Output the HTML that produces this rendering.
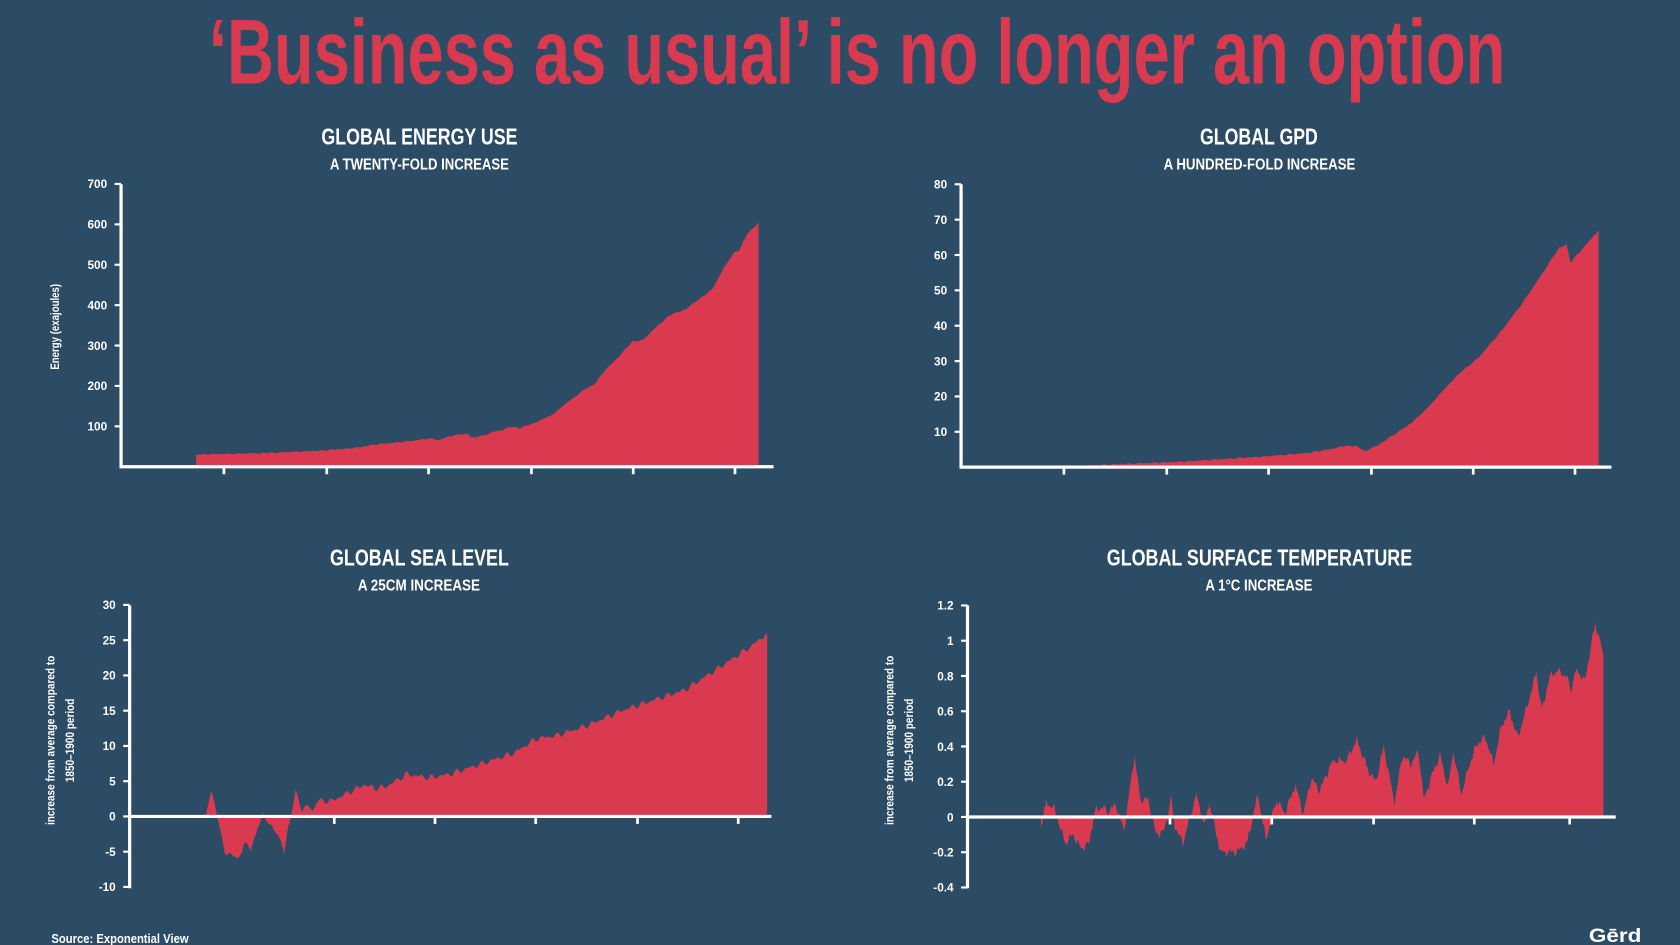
<!DOCTYPE html>
<html><head><meta charset="utf-8">
<style>
html,body{margin:0;padding:0;background:#2c4b64;}
svg{display:block;}
text{font-family:"Liberation Sans",sans-serif;font-weight:bold;fill:#fff;}
.tk{font-size:11px;font-weight:bold;}
</style></head>
<body>
<svg id="s" width="1680" height="945" viewBox="0 0 1568 882" preserveAspectRatio="none" xmlns="http://www.w3.org/2000/svg">
<rect width="1568" height="882" fill="#2c4b64"/>
<text x="195" y="78" font-size="86" textLength="1210" lengthAdjust="spacingAndGlyphs" style="fill:#d93a4f">‘Business as usual’ is no longer an option</text>

<text x="300" y="135" font-size="22" textLength="183" lengthAdjust="spacingAndGlyphs">GLOBAL ENERGY USE</text>
<text x="308" y="158" font-size="15" textLength="167" lengthAdjust="spacingAndGlyphs">A TWENTY-FOLD INCREASE</text>
<text x="1120" y="135" font-size="22" textLength="110" lengthAdjust="spacingAndGlyphs">GLOBAL GPD</text>
<text x="1086" y="158" font-size="15" textLength="179" lengthAdjust="spacingAndGlyphs">A HUNDRED-FOLD INCREASE</text>
<text x="308" y="528" font-size="22" textLength="167" lengthAdjust="spacingAndGlyphs">GLOBAL SEA LEVEL</text>
<text x="334" y="551" font-size="15" textLength="114" lengthAdjust="spacingAndGlyphs">A 25CM INCREASE</text>
<text x="1033" y="528" font-size="22" textLength="285" lengthAdjust="spacingAndGlyphs">GLOBAL SURFACE TEMPERATURE</text>
<text x="1125" y="551" font-size="15" textLength="100" lengthAdjust="spacingAndGlyphs">A 1°C INCREASE</text>

<text transform="translate(55,305) rotate(-90)" x="-40" font-size="11" textLength="80" lengthAdjust="spacingAndGlyphs">Energy (exajoules)</text>
<text transform="translate(51,691) rotate(-90)" x="-79" font-size="11" textLength="158" lengthAdjust="spacingAndGlyphs">increase from average compared to</text>
<text transform="translate(69,691) rotate(-90)" x="-39" font-size="11" textLength="78" lengthAdjust="spacingAndGlyphs">1850–1900 period</text>
<text transform="translate(834,691) rotate(-90)" x="-79" font-size="11" textLength="158" lengthAdjust="spacingAndGlyphs">increase from average compared to</text>
<text transform="translate(852,691) rotate(-90)" x="-39" font-size="11" textLength="78" lengthAdjust="spacingAndGlyphs">1850–1900 period</text>

<text x="48" y="880" font-size="12" textLength="128" lengthAdjust="spacingAndGlyphs">Source: Exponential View</text>
<text x="1483" y="879" font-size="18" textLength="49" lengthAdjust="spacingAndGlyphs">Gērd</text>
<g id="g"></g>
</svg>
<script>
var NS="http://www.w3.org/2000/svg",g=document.getElementById('g');
function el(t,a,txt){var e=document.createElementNS(NS,t);for(var k in a)e.setAttribute(k,a[k]);if(txt!==undefined)e.textContent=txt;g.appendChild(e);return e;}
function area(pts,y0){var d="M"+pts[0][0]+","+y0;pts.forEach(function(p){d+="L"+p[0]+","+p[1];});d+="L"+pts[pts.length-1][0]+","+y0+"Z";el('path',{d:d,fill:'#d93a4f'});}
function interp(keys,step,jit){var out=[];for(var i=0;i<keys.length-1;i++){var a=keys[i],b=keys[i+1];for(var x=a[0];x<b[0];x+=step){var t=(x-a[0])/(b[0]-a[0]);var v=a[1]+(b[1]-a[1])*t;if(jit)v+=jit*Math.sin(x*1.7)*Math.cos(x*0.9);out.push([x,v]);}}out.push(keys[keys.length-1]);return out;}
function axes(ax,top,bot,y0,xend,yt,xt,lblx,labels){
 el('line',{x1:ax,y1:top,x2:ax,y2:bot,stroke:'#fff','stroke-width':3});
 el('line',{x1:ax-1.5,y1:y0,x2:xend,y2:y0,stroke:'#fff','stroke-width':3});
 labels.forEach(function(l){el('line',{x1:ax-6,y1:l[1],x2:ax,y2:l[1],stroke:'#fff','stroke-width':2});el('text',{x:lblx,y:l[1]+4,'text-anchor':'end','class':'tk'},l[0]);});
 xt.forEach(function(x){el('line',{x1:x,y1:y0,x2:x,y2:y0+7,stroke:'#fff','stroke-width':2.5});});
}
var k1=[[183,30],[250,34],[300,40],[330,46],[350,55],[370,60],[390,66],[400,70],[410,66],[420,76],[430,80],[437,82],[440,72],[450,76],[460,86],[470,92],[478,100],[485,95],[500,110],[515,128],[530,160],[545,190],[555,205],[565,240],[575,265],[590,310],[600,313],[610,340],[625,375],[640,390],[655,420],[665,440],[675,490],[685,530],[690,535],[697,575],[708,605]];
area(interp(k1,2,1.5).map(function(p){return [p[0],435.6-p[1]*0.377];}),435.6);
var L1=[];for(var v=100;v<=700;v+=100)L1.push([v,435.6-v*0.377]);
axes(113,172,436,435.6,722,0,[209,305,400,496,591,686],100,L1);
var k2=[[1000,0.3],[1100,1.5],[1180,3],[1220,4],[1240,5],[1255,6],[1265,6],[1275,4.5],[1290,7],[1300,9],[1315,12],[1330,16],[1345,21],[1360,26],[1380,31],[1400,38],[1420,46],[1440,55],[1455,62],[1462,63],[1466,58],[1492,67]];
area(interp(k2,2,0.2).map(function(p){return [p[0],436-Math.max(0,p[1])*3.3];}),436);
var L2=[];for(var v=10;v<=80;v+=10)L2.push([v,436-v*3.3]);
axes(897,172,436,436,1504,0,[993,1089,1184,1280,1375,1470],884,L2);
var k3=[[192,0],[197,3.5],[203,0],[210,-5],[216,-5.5],[222,-6],[228,-4],[235,-4.5],[240,-2],[246,0.5],[252,-1.5],[258,-2],[265,-5],[270,-1],[276,3.5],[282,1],[288,1.5],[292,0.8],[296,2.2],[310,2.2],[320,3],[340,4.5],[350,4],[360,4.2],[380,6],[400,5.5],[420,6],[450,7.5],[480,9],[500,11],[520,11.5],[550,13],[580,15],[600,16],[620,17],[640,18],[660,20],[680,22],[700,24],[716,26]];
area(interp(k3,2,0.5).map(function(p){return [p[0],762-p[1]*6.58];}),762);
var L3=[];for(var v=-10;v<=30;v+=5)L3.push([v,762-v*6.58]);
axes(121,565,829,762,720,0,[312,406,500,595,689],108,L3);
var k4z=[[375,-0.05],[385,0.08],[400,0.05],[420,-0.15],[435,-0.1],[450,-0.18],[465,-0.15],[475,0.03],[490,0.06],[500,0.03],[515,0.07],[530,-0.08],[550,0.35],[560,0.1],[575,0.1],[590,-0.1],[605,-0.08],[618,0.1],[625,-0.05],[640,-0.15],[665,0.13],[680,-0.05],[690,0.08],[710,-0.2],[740,-0.2],[760,-0.15],[780,0.13],[795,-0.13],[815,0.1],[830,0.02],[850,0.18],[865,0.02],[880,0.22],[895,0.15],[920,0.32],[945,0.32],[965,0.44],[985,0.27],[1000,0.2],[1015,0.4],[1035,0.08],[1050,0.35],[1065,0.3],[1080,0.37],[1090,0.1],[1105,0.24],[1120,0.35],[1135,0.17],[1145,0.37],[1160,0.13],[1175,0.3],[1190,0.42],[1205,0.45],[1220,0.3],[1235,0.52],[1250,0.6],[1265,0.45],[1280,0.6],[1300,0.82],[1310,0.6],[1325,0.8],[1340,0.83],[1355,0.8],[1365,0.73],[1375,0.84],[1390,0.77],[1410,1.1],[1425,0.92]];
var k4=k4z.map(function(p){return [784+p[0]*0.5,p[1]];});
area(interp(k4,1.5,0.03).map(function(p){return [p[0],762.5-p[1]*164.5];}),762.5);
var L4=[];[-0.4,-0.2,0,0.2,0.4,0.6,0.8,1,1.2].forEach(function(v){L4.push([String(v),762.5-v*164.5]);});
axes(903,565,829,762.5,1508,0,[1092,1187,1282,1376,1465],890,L4);
</script>
</body></html>
